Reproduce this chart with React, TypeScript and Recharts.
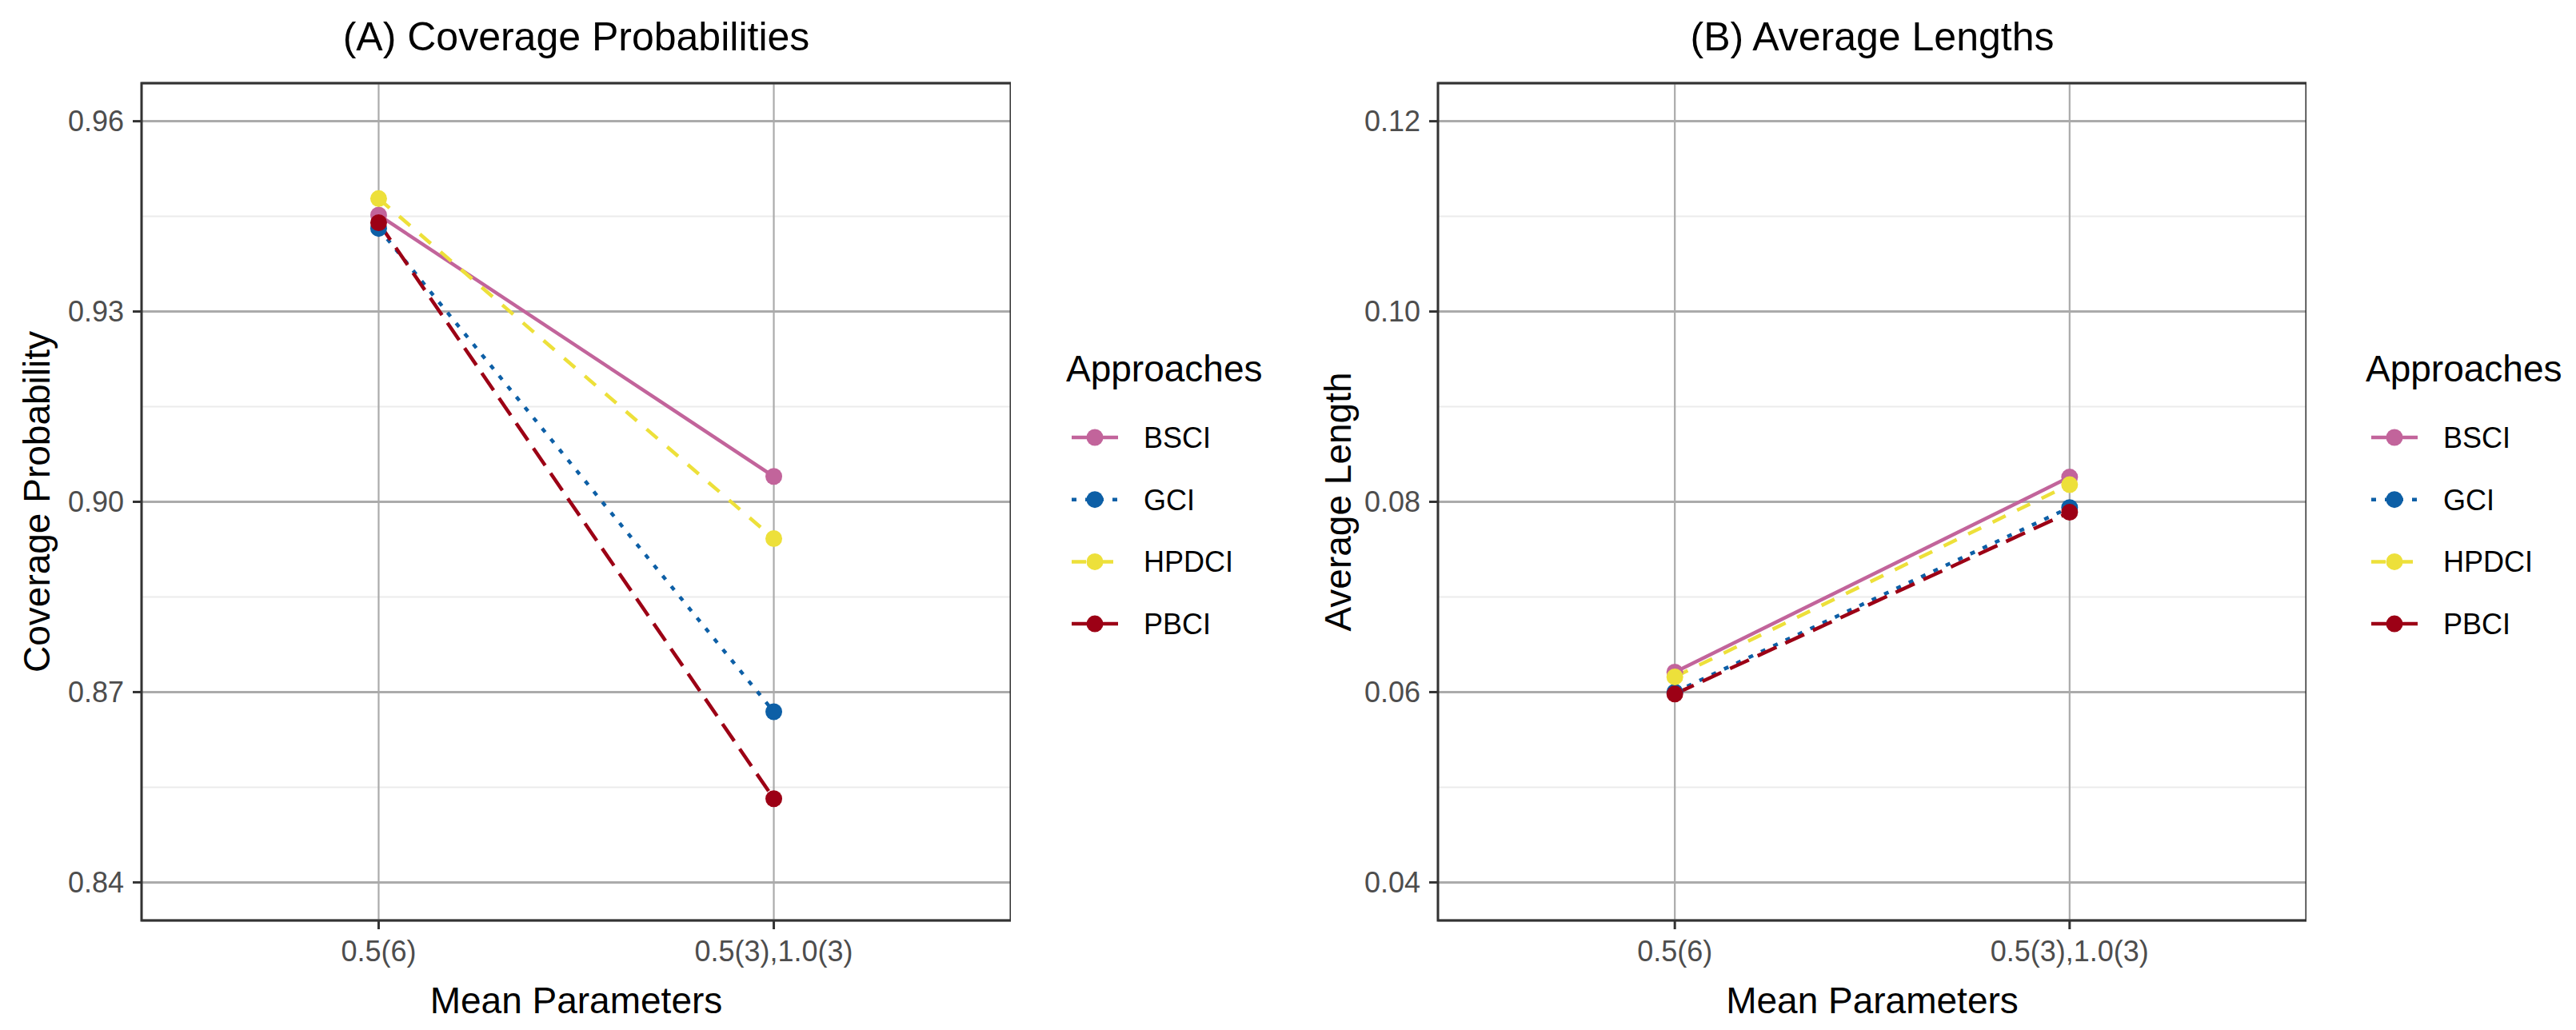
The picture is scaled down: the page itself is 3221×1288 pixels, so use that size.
import React from "react";
import {
  LineChart,
  Line,
  XAxis,
  YAxis,
  CartesianGrid,
  ReferenceArea,
  Label,
} from "recharts";

// categories on the x axis
const categories = ["0.5(6)", "0.5(3),1.0(3)"];

// approaches (series) and their look
const approaches = ["BSCI", "GCI", "HPDCI", "PBCI"];
const colors = ["#C2649B", "#0D5FA6", "#EDE03A", "#9C0015"];
const dashes = ["", "6 11", "18 16", "26 12"];

// (A) coverage probabilities
const coverageBSCI = [0.9452, 0.904];
const coverageGCI = [0.9431, 0.8669];
const coverageHPDCI = [0.9478, 0.8942];
const coveragePBCI = [0.944, 0.8532];
const coverageTicks = [0.84, 0.87, 0.9, 0.93, 0.96];
const coverageMinor = [0.855, 0.885, 0.915, 0.945];

// (B) average lengths
const lengthBSCI = [0.0621, 0.0826];
const lengthGCI = [0.06, 0.0794];
const lengthHPDCI = [0.0616, 0.0818];
const lengthPBCI = [0.0598, 0.0789];
const lengthTicks = [0.04, 0.06, 0.08, 0.1, 0.12];
const lengthMinor = [0.05, 0.07, 0.09, 0.11];

const FONT = "'Liberation Sans', Arial, Helvetica, sans-serif";

const buildRows = (series: number[][]) =>
  categories.map((cat, i) => {
    const row: any = { pos: i + 1, cat };
    approaches.forEach((name, k) => {
      row[name] = series[k][i];
    });
    return row;
  });

const coverageRows = buildRows([coverageBSCI, coverageGCI, coverageHPDCI, coveragePBCI]);
const lengthRows = buildRows([lengthBSCI, lengthGCI, lengthHPDCI, lengthPBCI]);

type PanelProps = {
  title: string;
  yLabel: string;
  rows: any[];
  ticks: number[];
  minor: number[];
  left: number;
  yAxisWidth: number;
  yLabelOffset: number;
  width: number;
  legendLeft: number;
};

const Legend = ({ left }: { left: number }) => (
  <svg
    width={300}
    height={1288}
    style={{ position: "absolute", left, top: 0, overflow: "visible" }}
  >
    <text x={-7} y={477} fontSize={46} fontFamily={FONT} fill="#000">
      Approaches
    </text>
    {approaches.map((name, i) => {
      const cy = 547 + i * 77.7;
      return (
        <g key={name}>
          <line
            x1={0}
            x2={58}
            y1={cy}
            y2={cy}
            stroke={colors[i]}
            strokeWidth={4.5}
            strokeDasharray={dashes[i] || undefined}
          />
          <circle cx={29} cy={cy} r={10.5} fill={colors[i]} />
          <text x={90} y={cy + 13} fontSize={36} fontFamily={FONT} fill="#000">
            {name}
          </text>
        </g>
      );
    })}
  </svg>
);

const Panel = ({
  title,
  yLabel,
  rows,
  ticks,
  minor,
  left,
  yAxisWidth,
  yLabelOffset,
  width,
  legendLeft,
}: PanelProps) => {
  const span = ticks[ticks.length - 1] - ticks[0];
  const domain = [ticks[0] - 0.05 * span, ticks[ticks.length - 1] + 0.05 * span];
  const plotCenter = left + yAxisWidth + (width - yAxisWidth) / 2;

  return (
    <>
      <div
        style={{
          position: "absolute",
          left: plotCenter - 600,
          top: 21,
          width: 1200,
          textAlign: "center",
          fontFamily: FONT,
          fontSize: 50,
          lineHeight: "50px",
          color: "#000",
        }}
      >
        {title}
      </div>
      <div style={{ position: "absolute", left, top: 0 }}>
        <LineChart
          width={width}
          height={1288}
          data={rows}
          margin={{ top: 104, right: 0, bottom: 0, left: 0 }}
        >
          <YAxis
            yAxisId="minor"
            hide
            type="number"
            domain={domain}
            ticks={minor}
            allowDataOverflow
          />
          <CartesianGrid
            yAxisId="minor"
            vertical={false}
            stroke="#EBEBEB"
            strokeWidth={2}
          />
          <CartesianGrid
            yAxisId="main"
            vertical={false}
            stroke="#ABABAB"
            strokeWidth={3}
          />
          <CartesianGrid
            yAxisId="main"
            horizontal={false}
            stroke="#ABABAB"
            strokeWidth={2.2}
          />
          <XAxis
            dataKey="pos"
            type="number"
            domain={[0.4, 2.6]}
            ticks={[1, 2]}
            allowDataOverflow
            tickFormatter={(v: number) => categories[v - 1]}
            height={137}
            axisLine={false}
            tickLine={{ stroke: "#333333", strokeWidth: 3 }}
            tickSize={11}
            tickMargin={14}
            tick={{ fontSize: 36, fill: "#4D4D4D", fontFamily: FONT }}
          >
            <Label
              value="Mean Parameters"
              position="insideBottom"
              offset={21}
              style={{ fontSize: 46, fill: "#000", fontFamily: FONT }}
            />
          </XAxis>
          <YAxis
            yAxisId="main"
            type="number"
            domain={domain}
            ticks={ticks}
            allowDataOverflow
            width={yAxisWidth}
            tickFormatter={(v: number) => v.toFixed(2)}
            axisLine={false}
            tickLine={{ stroke: "#333333", strokeWidth: 3 }}
            tickSize={11}
            tickMargin={11}
            tick={{ fontSize: 36, fill: "#4D4D4D", fontFamily: FONT }}
          >
            <Label
              content={({ viewBox }: any) => {
                const x = viewBox.x + viewBox.width - yLabelOffset;
                const y = viewBox.y + viewBox.height / 2;
                return (
                  <text
                    x={x}
                    y={y}
                    transform={`rotate(-90, ${x}, ${y})`}
                    textAnchor="middle"
                    fontSize={46}
                    fontFamily={FONT}
                    fill="#000"
                  >
                    {yLabel}
                  </text>
                );
              }}
            />
          </YAxis>
          {approaches.map((name, i) => (
            <Line
              key={name}
              yAxisId="main"
              type="linear"
              dataKey={name}
              stroke={colors[i]}
              strokeWidth={4.5}
              strokeDasharray={dashes[i] || undefined}
              dot={{ r: 10.5, fill: colors[i], stroke: "none", strokeWidth: 0, strokeDasharray: "" }}
              activeDot={false}
              isAnimationActive={false}
            />
          ))}
          <ReferenceArea
            yAxisId="main"
            y1={domain[0]}
            y2={domain[1]}
            fill="none"
            stroke="#333333"
            strokeWidth={3}
            ifOverflow="visible"
          />
        </LineChart>
      </div>
      <Legend left={legendLeft} />
    </>
  );
};

const App: React.FC = () => (
  <div
    style={{
      position: "absolute",
      left: 0,
      top: 0,
      width: 3221,
      height: 1288,
      background: "#fff",
      overflow: "hidden",
    }}
  >
    <Panel
      title="(A) Coverage Probabilities"
      yLabel="Coverage Probability"
      rows={coverageRows}
      ticks={coverageTicks}
      minor={coverageMinor}
      left={0}
      yAxisWidth={177}
      yLabelOffset={115}
      width={1264}
      legendLeft={1340}
    />
    <Panel
      title="(B) Average Lengths"
      yLabel="Average Length"
      rows={lengthRows}
      ticks={lengthTicks}
      minor={lengthMinor}
      left={1640}
      yAxisWidth={158}
      yLabelOffset={109}
      width={1244}
      legendLeft={2965}
    />
  </div>
);

export default App;
